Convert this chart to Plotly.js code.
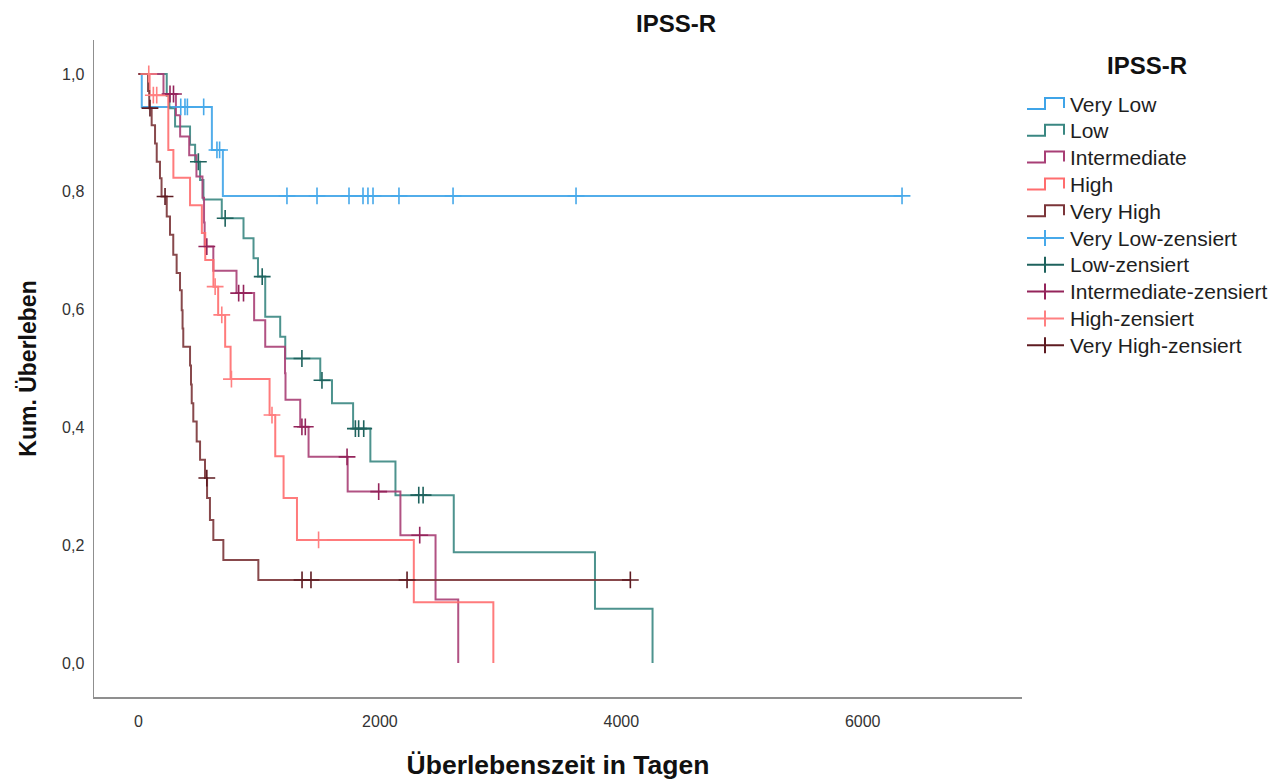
<!DOCTYPE html>
<html><head><meta charset="utf-8">
<script src="https://cdn.plot.ly/plotly-3.0.1.min.js"></script>
<style>html,body{margin:0;padding:0;background:#fff}#chart{width:1285px;height:780px}</style>
</head><body><div id="chart"></div>
<script>
// ---- data ----
const chartTitle = 'IPSS-R';
const legendTitle = 'IPSS-R';
const xAxisTitle = 'Überlebenszeit in Tagen';
const yAxisTitle = 'Kum. Überleben';
const groupNames = ['Very Low', 'Low', 'Intermediate', 'High', 'Very High'];
const censorSuffix = '-zensiert';
const xTickVals = [0, 2000, 4000, 6000];
const yTickVals = [0, 0.2, 0.4, 0.6, 0.8, 1.0];

// event times (days) and survival after each event
const veryLowTimes = [27, 608, 699];
const veryLowSurv  = [0.944, 0.871, 0.793];
const veryLowCensored = [350, 385, 405, 540, 650, 672, 1230, 1479, 1744, 1860, 1901, 1943, 2158, 2606, 3625, 6326];

const lowTimes = [234, 256, 303, 427, 469, 510, 538, 690, 870, 953, 990, 1050, 1174, 1216, 1506, 1603, 1778, 1921, 2129, 2612, 3782, 4259];
const lowSurv  = [0.963, 0.942, 0.911, 0.880, 0.851, 0.820, 0.787, 0.755, 0.721, 0.687, 0.656, 0.588, 0.554, 0.517, 0.480, 0.441, 0.398, 0.342, 0.285, 0.188, 0.092, 0];
const lowCensored = [496, 718, 1025, 1354, 1520, 1797, 1824, 1866, 2322, 2358];

const interTimes = [207, 310, 345, 420, 480, 530, 543, 548, 620, 812, 958, 1050, 1214, 1218, 1340, 1409, 1733, 2170, 2461, 2649];
const interSurv  = [0.966, 0.930, 0.894, 0.862, 0.826, 0.790, 0.748, 0.707, 0.666, 0.628, 0.582, 0.537, 0.492, 0.447, 0.401, 0.350, 0.291, 0.217, 0.108, 0];
const interCensored = [261, 290, 566, 830, 870, 1354, 1382, 1728, 1990, 2330];

const highTimes = [92, 247, 289, 427, 525, 553, 621, 660, 718, 763, 1086, 1133, 1202, 1313, 2281, 2940];
const highSurv  = [0.964, 0.871, 0.824, 0.777, 0.730, 0.684, 0.639, 0.591, 0.537, 0.482, 0.421, 0.351, 0.280, 0.209, 0.103, 0];
const highCensored = [85, 123, 151, 635, 690, 770, 1106, 1492];

const veryHighTimes = [79, 89, 109, 137, 151, 178, 191, 234, 261, 288, 316, 344, 358, 365, 371, 427, 435, 441, 454, 482, 510, 551, 568, 592, 620, 703, 993];
const veryHighSurv  = [0.971, 0.942, 0.913, 0.882, 0.851, 0.823, 0.792, 0.758, 0.727, 0.693, 0.662, 0.633, 0.599, 0.568, 0.537, 0.505, 0.473, 0.441, 0.410, 0.376, 0.345, 0.314, 0.280, 0.243, 0.209, 0.175, 0.141];
const veryHighCensored = [95, 220, 566, 1355, 1429, 2225, 4075];

// ---- styles ----
const lineColors   = ['#3FA4E8', '#3A8782', '#A83F76', '#FF6D6E', '#7B3539'];
const censorColors = ['#47A9EA', '#1E625D', '#94245B', '#FF8081', '#5E1B21'];

const groups = [
  {t: veryLowTimes, s: veryLowSurv, c: veryLowCensored},
  {t: lowTimes, s: lowSurv, c: lowCensored},
  {t: interTimes, s: interSurv, c: interCensored},
  {t: highTimes, s: highSurv, c: highCensored},
  {t: veryHighTimes, s: veryHighSurv, c: veryHighCensored}
];

function survAt(times, surv, t) {
  let s = 1;
  for (let i = 0; i < times.length; i++) { if (times[i] <= t) s = surv[i]; }
  return s;
}

const traces = [];
groups.forEach((g, i) => {
  const x = [0].concat(g.t);
  const y = [1].concat(g.s);
  const lastC = Math.max.apply(null, g.c);
  if (lastC > g.t[g.t.length - 1]) { x.push(lastC); y.push(g.s[g.s.length - 1]); }
  traces.push({
    type: 'scatter', mode: 'lines', name: groupNames[i], x: x, y: y,
    line: {shape: 'hv', color: lineColors[i], width: 2}, opacity: 0.9,
    hoverinfo: 'x+y+name', showlegend: false
  });
});
groups.forEach((g, i) => {
  traces.push({
    type: 'scatter', mode: 'markers', name: groupNames[i] + censorSuffix,
    x: g.c, y: g.c.map(t => survAt(g.t, g.s, t)),
    marker: {symbol: 'cross-thin', size: 12, line: {color: censorColors[i], width: 1.6}, color: censorColors[i]},
    showlegend: false
  });
});

// ---- custom legend (paper coordinates derived from plot box) ----
const W = 1285, H = 780, mL = 94, mR = 263, mT = 40, mB = 83;
const pw = W - mL - mR, ph = H - mT - mB;
const px = v => (v - mL) / pw;
const py = v => (H - mB - v) / ph;
const legendNames = groupNames.concat(groupNames.map(n => n + censorSuffix));
const legendColors = lineColors.concat(censorColors);
const rowY0 = 104, rowStep = 26.8;
const annotations = [{
  text: '<b>' + legendTitle + '</b>', xref: 'paper', yref: 'paper', x: px(1147), y: py(65),
  xanchor: 'center', yanchor: 'middle', showarrow: false, font: {size: 24, color: '#111'}
}];
const shapes = [];
legendNames.forEach((n, i) => {
  const cy = rowY0 + i * rowStep;
  annotations.push({
    text: n, xref: 'paper', yref: 'paper', x: px(1068), y: py(cy), xanchor: 'left', yanchor: 'middle',
    showarrow: false, font: {size: 21, color: '#1e1e1e'}
  });
  if (i < 5) {
    const path = 'M' + px(1027) + ',' + py(cy + 5) + ' L' + px(1045) + ',' + py(cy + 5) + ' L' + px(1045) + ',' + py(cy - 6) +
      ' L' + px(1064) + ',' + py(cy - 6) + ' L' + px(1064) + ',' + py(cy + 4);
    shapes.push({type: 'path', xref: 'paper', yref: 'paper', path: path, line: {color: legendColors[i], width: 2}});
  } else {
    shapes.push({type: 'line', xref: 'paper', yref: 'paper', x0: px(1027), x1: px(1064), y0: py(cy), y1: py(cy), line: {color: legendColors[i], width: 2}});
    shapes.push({type: 'line', xref: 'paper', yref: 'paper', x0: px(1045), x1: px(1045), y0: py(cy - 8), y1: py(cy + 8), line: {color: legendColors[i], width: 2}});
  }
});

const layout = {
  width: W, height: H,
  margin: {l: mL, r: mR, t: mT, b: mB},
  paper_bgcolor: '#ffffff', plot_bgcolor: '#ffffff',
  showlegend: false,
  separators: ',.',
  font: {family: 'Liberation Sans, Arial, sans-serif', color: '#222'},
  title: {text: '<b>' + chartTitle + '</b>', xref: 'container', yref: 'container', x: 676 / W, y: 1 - 24 / H,
          xanchor: 'center', yanchor: 'middle', font: {size: 24, color: '#111'}},
  xaxis: {
    range: [-368.7, 7320], tickvals: xTickVals, tickformat: 'd', showgrid: false, zeroline: false,
    showline: true, linecolor: '#8f8f8f', linewidth: 1.5, ticks: 'outside', ticklen: 9, tickcolor: 'rgba(0,0,0,0)',
    tickfont: {size: 16, color: '#333'},
    title: {text: '<b>' + xAxisTitle + '</b>', standoff: 27, font: {size: 26.5, color: '#111'}}
  },
  yaxis: {
    range: [-0.0577, 1.0577], tickvals: yTickVals, tickformat: '.1f', showgrid: false, zeroline: false,
    showline: true, linecolor: '#8f8f8f', linewidth: 1.5, ticks: 'outside', ticklen: 5, tickcolor: 'rgba(0,0,0,0)',
    tickfont: {size: 16, color: '#333'},
    title: {text: '<b>' + yAxisTitle + '</b>', standoff: 19, font: {size: 23, color: '#111'}}
  },
  annotations: annotations,
  shapes: shapes
};

Plotly.newPlot('chart', traces, layout, {displayModeBar: false, staticPlot: true});
</script>
</body></html>
